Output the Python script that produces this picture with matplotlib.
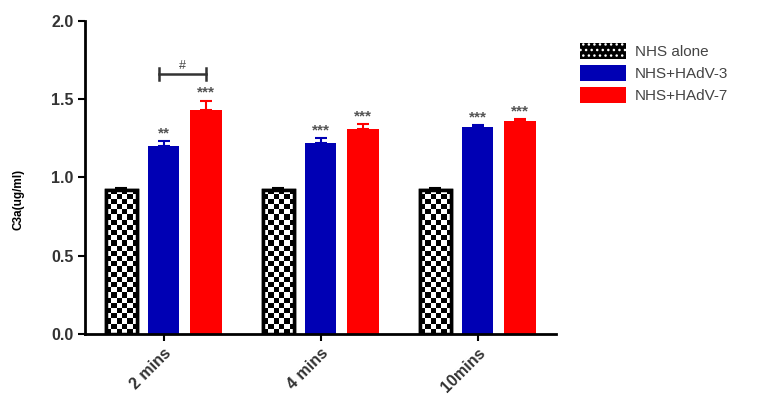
import numpy as np
import matplotlib
matplotlib.use('Agg')
import matplotlib.pyplot as plt
from matplotlib.patches import Patch

plt.rcParams['font.family'] = ['Liberation Sans', 'DejaVu Sans']

groups = ['2 mins', '4 mins', '10mins']
series = ['NHS alone', 'NHS+HAdV-3', 'NHS+HAdV-7']
nhs_alone = [0.92, 0.92, 0.92]
nhs_alone_err = [0.01, 0.01, 0.01]
hadv3 = [1.20, 1.22, 1.32]
hadv3_err = [0.03, 0.03, 0.015]
hadv7 = [1.43, 1.31, 1.36]
hadv7_err = [0.06, 0.03, 0.012]
stars3 = ['**', '***', '***']
stars7 = ['***', '***', '***']

fig = plt.figure(figsize=(7.68, 4.16), dpi=100)
ax = fig.add_axes([0.111, 0.197, 0.613, 0.753])

x = np.arange(len(groups))
w = 0.2
off = 0.27

# checkerboard bars
b0 = ax.bar(x - off, nhs_alone, w, facecolor='white', edgecolor='black', linewidth=2.5, zorder=2)
ax.errorbar(x - off, nhs_alone, yerr=[np.zeros(3), nhs_alone_err], fmt='none',
            ecolor='black', elinewidth=1.5, capsize=4, capthick=1.5, zorder=1)
ncol, nrow, cell = 6, 60, 0.033
ii, jj = np.meshgrid(np.arange(ncol), np.arange(nrow))
checker = ((ii + jj) % 2).astype(float)
for i, rect in enumerate(b0):
    x0 = rect.get_x()
    img = ax.imshow(checker, cmap='gray', extent=[x0, x0 + w, 0, nrow * cell],
                    origin='lower', interpolation='nearest', aspect='auto', zorder=2.5)
    img.set_clip_path(rect)
    ax.bar(x0 + w / 2, nhs_alone[i], w, facecolor='none', edgecolor='black', linewidth=2.5, zorder=3)

ax.bar(x, hadv3, w, color='#0000b4', zorder=2)
ax.errorbar(x, hadv3, yerr=[np.zeros(3), hadv3_err], fmt='none',
            ecolor='#0000b4', elinewidth=1.5, capsize=4, capthick=1.5, zorder=1)
ax.bar(x + off, hadv7, w, color='#ff0000', zorder=2)
ax.errorbar(x + off, hadv7, yerr=[np.zeros(3), hadv7_err], fmt='none',
            ecolor='#ff0000', elinewidth=1.5, capsize=4, capthick=1.5, zorder=1)

for i in range(3):
    ax.text(x[i], hadv3[i] + hadv3_err[i] + 0.005, stars3[i], ha='center', va='bottom',
            fontsize=11, fontweight='bold', color='#555555')
    ax.text(x[i] + off, hadv7[i] + hadv7_err[i] + 0.005, stars7[i], ha='center', va='bottom',
            fontsize=11, fontweight='bold', color='#555555')

# bracket between HAdV-3 and HAdV-7 at 2 mins
yb = 1.66
ax.plot([-0.03, 0.27], [yb, yb], color='#333333', lw=1.8)
ax.plot([-0.03, -0.03], [yb - 0.04, yb + 0.04], color='#333333', lw=1.8)
ax.plot([0.27, 0.27], [yb - 0.04, yb + 0.04], color='#333333', lw=1.8)
ax.text(0.12, yb + 0.015, '#', ha='center', va='bottom', fontsize=9, color='#444444')

ax.set_xlim(-0.5, 2.5)
ax.set_ylim(0, 2.0)
ax.set_yticks([0, 0.5, 1.0, 1.5, 2.0])
ax.set_yticklabels(['0.0', '0.5', '1.0', '1.5', '2.0'], fontsize=11.5, fontweight='bold', color='#333333')
ax.set_xticks(x)
ax.set_xticklabels(groups, rotation=45, ha='right', rotation_mode='anchor',
                   fontsize=11.5, fontweight='bold', color='#333333')
ax.set_ylabel('C3a(ug/ml)', fontsize=8.5, fontweight='bold')
ax.yaxis.set_label_coords(-0.13, 0.43)
for s in ['top', 'right']:
    ax.spines[s].set_visible(False)
for s in ['left', 'bottom']:
    ax.spines[s].set_linewidth(2)
ax.tick_params(width=1.5, length=5)

handles = [Patch(facecolor='black', edgecolor='white', hatch='...', linewidth=0),
           Patch(facecolor='#0000b4'), Patch(facecolor='#ff0000')]
fig.legend(handles, series, loc='upper left', bbox_to_anchor=(0.737, 0.93), frameon=False,
           fontsize=11, handlelength=3, handleheight=1.2, labelspacing=0.4, handletextpad=0.6,
           labelcolor='#444444')

fig.savefig('out.png', dpi=100)
